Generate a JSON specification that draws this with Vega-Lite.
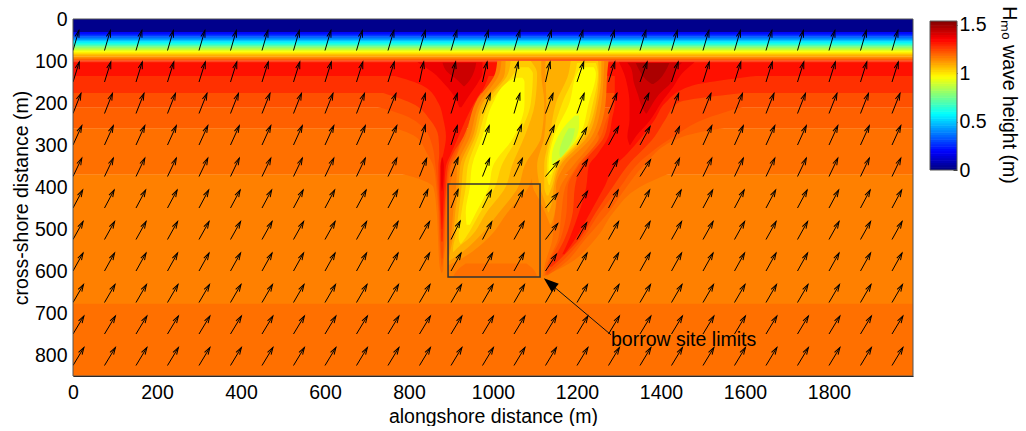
{"$schema":"https://vega.github.io/schema/vega-lite/v6.json","background":"white","padding":{"left":11,"top":5,"right":0,"bottom":0},"bounds":"flush","spacing":17,"config":{"font":"Liberation Sans","axis":{"labelFont":"Liberation Sans","titleFont":"Liberation Sans","labelFontSize":19.5,"titleFontSize":19.5,"titleFontWeight":"normal","labelColor":"#000","titleColor":"#000","grid":false},"view":{"stroke":null}},"datasets":{
"bg":[{"y0":0,"y1":32,"v":0.02},{"y0":31,"y1":36,"v":0.2},{"y0":35,"y1":39,"v":0.24},{"y0":38,"y1":42,"v":0.28},{"y0":41,"y1":45,"v":0.33},{"y0":44,"y1":48,"v":0.38},{"y0":47,"y1":51,"v":0.43},{"y0":50,"y1":54,"v":0.49},{"y0":53,"y1":57,"v":0.54},{"y0":56,"y1":60,"v":0.6},{"y0":59,"y1":63,"v":0.65},{"y0":62,"y1":66,"v":0.7},{"y0":65,"y1":69,"v":0.76},{"y0":68,"y1":72,"v":0.82},{"y0":71,"y1":75,"v":0.87},{"y0":74,"y1":78,"v":0.92},{"y0":77,"y1":81,"v":0.96},{"y0":80,"y1":84,"v":1.0},{"y0":83,"y1":87,"v":1.05},{"y0":86,"y1":90,"v":1.08},{"y0":89,"y1":93,"v":1.12},{"y0":92,"y1":96,"v":1.16},{"y0":95,"y1":99,"v":1.2},{"y0":98,"y1":102,"v":1.25},{"y0":101,"y1":106,"v":1.3},{"y0":105,"y1":137,"v":1.32},{"y0":136,"y1":177,"v":1.272},{"y0":176,"y1":211,"v":1.224},{"y0":210,"y1":261,"v":1.2},{"y0":260,"y1":371,"v":1.175},{"y0":370,"y1":679,"v":1.152},{"y0":678,"y1":850,"v":1.175}],
"bands":[
{"id":"L1","v":1.175,"y":368,"x0":780,"x1":905},{"id":"L1","v":1.175,"y":385,"x0":835,"x1":900},{"id":"L1","v":1.175,"y":400,"x0":858,"x1":897},{"id":"L1","v":1.175,"y":460,"x0":866,"x1":895},{"id":"L1","v":1.175,"y":520,"x0":869,"x1":893},{"id":"L1","v":1.175,"y":590,"x0":873,"x1":885},{"id":"L1","v":1.175,"y":606,"x0":878,"x1":878},
{"id":"R1","v":1.175,"y":368,"x0":1180,"x1":1420},{"id":"R1","v":1.175,"y":400,"x0":1160,"x1":1350},{"id":"R1","v":1.175,"y":460,"x0":1148,"x1":1287},{"id":"R1","v":1.175,"y":520,"x0":1140,"x1":1247},{"id":"R1","v":1.175,"y":590,"x0":1122,"x1":1168},{"id":"R1","v":1.175,"y":612,"x0":1118,"x1":1122},
{"id":"L2","v":1.2,"y":258,"x0":760,"x1":930},{"id":"L2","v":1.2,"y":280,"x0":815,"x1":925},{"id":"L2","v":1.2,"y":320,"x0":843,"x1":915},{"id":"L2","v":1.2,"y":350,"x0":858,"x1":900},{"id":"L2","v":1.2,"y":400,"x0":865,"x1":893},{"id":"L2","v":1.2,"y":460,"x0":870,"x1":888},{"id":"L2","v":1.2,"y":520,"x0":872,"x1":885},{"id":"L2","v":1.2,"y":575,"x0":876,"x1":881},{"id":"L2","v":1.2,"y":590,"x0":878,"x1":879},
{"id":"R2","v":1.2,"y":258,"x0":1230,"x1":1560},{"id":"R2","v":1.2,"y":280,"x0":1252,"x1":1453},{"id":"R2","v":1.2,"y":350,"x0":1200,"x1":1358},{"id":"R2","v":1.2,"y":400,"x0":1172,"x1":1318},{"id":"R2","v":1.2,"y":460,"x0":1163,"x1":1275},{"id":"R2","v":1.2,"y":520,"x0":1156,"x1":1223},{"id":"R2","v":1.2,"y":590,"x0":1127,"x1":1160},{"id":"R2","v":1.2,"y":610,"x0":1124,"x1":1130},
{"id":"L3","v":1.224,"y":208,"x0":720,"x1":950},{"id":"L3","v":1.224,"y":230,"x0":790,"x1":945},{"id":"L3","v":1.224,"y":260,"x0":835,"x1":935},{"id":"L3","v":1.224,"y":300,"x0":855,"x1":920},{"id":"L3","v":1.224,"y":350,"x0":863,"x1":897},{"id":"L3","v":1.224,"y":400,"x0":868,"x1":890},{"id":"L3","v":1.224,"y":460,"x0":872,"x1":886},{"id":"L3","v":1.224,"y":520,"x0":874,"x1":883},{"id":"L3","v":1.224,"y":570,"x0":878,"x1":880},
{"id":"R3","v":1.224,"y":208,"x0":1285,"x1":1600},{"id":"R3","v":1.224,"y":240,"x0":1270,"x1":1500},{"id":"R3","v":1.224,"y":280,"x0":1257,"x1":1430},{"id":"R3","v":1.224,"y":350,"x0":1203,"x1":1340},{"id":"R3","v":1.224,"y":400,"x0":1178,"x1":1303},{"id":"R3","v":1.224,"y":460,"x0":1175,"x1":1255},{"id":"R3","v":1.224,"y":520,"x0":1162,"x1":1215},{"id":"R3","v":1.224,"y":590,"x0":1130,"x1":1150},{"id":"R3","v":1.224,"y":606,"x0":1127,"x1":1130},
{"id":"L4","v":1.272,"y":174,"x0":730,"x1":965},{"id":"L4","v":1.272,"y":200,"x0":805,"x1":960},{"id":"L4","v":1.272,"y":240,"x0":850,"x1":945},{"id":"L4","v":1.272,"y":280,"x0":870,"x1":930},{"id":"L4","v":1.272,"y":320,"x0":872,"x1":905},{"id":"L4","v":1.272,"y":350,"x0":870,"x1":893},{"id":"L4","v":1.272,"y":400,"x0":871,"x1":888},{"id":"L4","v":1.272,"y":460,"x0":874,"x1":884},{"id":"L4","v":1.272,"y":530,"x0":877,"x1":880},
{"id":"R4","v":1.272,"y":174,"x0":1290,"x1":1620},{"id":"R4","v":1.272,"y":200,"x0":1283,"x1":1440},{"id":"R4","v":1.272,"y":240,"x0":1275,"x1":1410},{"id":"R4","v":1.272,"y":280,"x0":1265,"x1":1385},{"id":"R4","v":1.272,"y":350,"x0":1210,"x1":1320},{"id":"R4","v":1.272,"y":400,"x0":1195,"x1":1285},{"id":"R4","v":1.272,"y":460,"x0":1190,"x1":1245},{"id":"R4","v":1.272,"y":520,"x0":1172,"x1":1208},{"id":"R4","v":1.272,"y":590,"x0":1132,"x1":1140},
{"id":"L5","v":1.32,"y":134,"x0":760,"x1":990},{"id":"L5","v":1.32,"y":160,"x0":835,"x1":980},{"id":"L5","v":1.32,"y":200,"x0":870,"x1":955},{"id":"L5","v":1.32,"y":240,"x0":882,"x1":935},{"id":"L5","v":1.32,"y":280,"x0":888,"x1":918},{"id":"L5","v":1.32,"y":320,"x0":882,"x1":900},{"id":"L5","v":1.32,"y":350,"x0":874,"x1":888},{"id":"L5","v":1.32,"y":400,"x0":874,"x1":884},{"id":"L5","v":1.32,"y":460,"x0":876,"x1":881},{"id":"L5","v":1.32,"y":500,"x0":878,"x1":879},
{"id":"R5","v":1.32,"y":134,"x0":1290,"x1":1640},{"id":"R5","v":1.32,"y":160,"x0":1290,"x1":1470},{"id":"R5","v":1.32,"y":200,"x0":1290,"x1":1410},{"id":"R5","v":1.32,"y":240,"x0":1283,"x1":1385},{"id":"R5","v":1.32,"y":280,"x0":1275,"x1":1355},{"id":"R5","v":1.32,"y":320,"x0":1250,"x1":1320},{"id":"R5","v":1.32,"y":350,"x0":1228,"x1":1290},{"id":"R5","v":1.32,"y":400,"x0":1222,"x1":1265},{"id":"R5","v":1.32,"y":460,"x0":1205,"x1":1232},{"id":"R5","v":1.32,"y":520,"x0":1183,"x1":1198},{"id":"R5","v":1.32,"y":560,"x0":1165,"x1":1170},
{"id":"L6","v":1.37,"y":103,"x0":820,"x1":975},{"id":"L6","v":1.37,"y":130,"x0":860,"x1":975},{"id":"L6","v":1.37,"y":150,"x0":880,"x1":965},{"id":"L6","v":1.37,"y":180,"x0":905,"x1":945},{"id":"L6","v":1.37,"y":210,"x0":920,"x1":925},
{"id":"L6b","v":1.37,"y":330,"x0":878,"x1":880},{"id":"L6b","v":1.37,"y":350,"x0":876,"x1":883},{"id":"L6b","v":1.37,"y":385,"x0":876,"x1":882},{"id":"L6b","v":1.37,"y":410,"x0":878,"x1":879},
{"id":"R6","v":1.37,"y":103,"x0":1300,"x1":1480},{"id":"R6","v":1.37,"y":130,"x0":1312,"x1":1450},{"id":"R6","v":1.37,"y":160,"x0":1320,"x1":1430},{"id":"R6","v":1.37,"y":200,"x0":1325,"x1":1400},{"id":"R6","v":1.37,"y":240,"x0":1325,"x1":1375},{"id":"R6","v":1.37,"y":280,"x0":1320,"x1":1340},{"id":"R6","v":1.37,"y":300,"x0":1325,"x1":1327},
{"id":"L7","v":1.42,"y":104,"x0":880,"x1":960},{"id":"L7","v":1.42,"y":125,"x0":890,"x1":955},{"id":"L7","v":1.42,"y":145,"x0":915,"x1":945},{"id":"L7","v":1.42,"y":160,"x0":930,"x1":932},
{"id":"R7","v":1.42,"y":104,"x0":1320,"x1":1450},{"id":"R7","v":1.42,"y":120,"x0":1330,"x1":1435},{"id":"R7","v":1.42,"y":150,"x0":1335,"x1":1425},{"id":"R7","v":1.42,"y":180,"x0":1345,"x1":1395},{"id":"R7","v":1.42,"y":210,"x0":1355,"x1":1375},{"id":"R7","v":1.42,"y":225,"x0":1364,"x1":1366},
{"id":"R8","v":1.47,"y":105,"x0":1340,"x1":1420},{"id":"R8","v":1.47,"y":125,"x0":1350,"x1":1410},{"id":"R8","v":1.47,"y":145,"x0":1365,"x1":1395},{"id":"R8","v":1.47,"y":155,"x0":1378,"x1":1382},
{"id":"M","v":1.152,"y":100,"x0":1010,"x1":1275},{"id":"M","v":1.152,"y":130,"x0":1005,"x1":1272},{"id":"M","v":1.152,"y":200,"x0":958,"x1":1268},{"id":"M","v":1.152,"y":280,"x0":935,"x1":1245},{"id":"M","v":1.152,"y":350,"x0":907,"x1":1190},{"id":"M","v":1.152,"y":400,"x0":905,"x1":1150},{"id":"M","v":1.152,"y":460,"x0":895,"x1":1145},{"id":"M","v":1.152,"y":520,"x0":890,"x1":1142},{"id":"M","v":1.152,"y":590,"x0":882,"x1":1122},{"id":"M","v":1.152,"y":610,"x0":882,"x1":1120},
{"id":"D","v":1.175,"y":582,"x0":935,"x1":1080},{"id":"D","v":1.175,"y":598,"x0":915,"x1":1098},{"id":"D","v":1.175,"y":614,"x0":905,"x1":1105},
{"id":"A1","v":1.12,"y":100,"x0":1020,"x1":1120},{"id":"A1","v":1.12,"y":130,"x0":1015,"x1":1130},{"id":"A1","v":1.12,"y":200,"x0":968,"x1":1130},{"id":"A1","v":1.12,"y":280,"x0":945,"x1":1130},{"id":"A1","v":1.12,"y":350,"x0":915,"x1":1100},{"id":"A1","v":1.12,"y":400,"x0":912,"x1":1085},{"id":"A1","v":1.12,"y":460,"x0":905,"x1":1035},{"id":"A1","v":1.12,"y":520,"x0":900,"x1":990},{"id":"A1","v":1.12,"y":570,"x0":893,"x1":925},{"id":"A1","v":1.12,"y":585,"x0":892,"x1":896},
{"id":"B1","v":1.12,"y":100,"x0":1110,"x1":1265},{"id":"B1","v":1.12,"y":200,"x0":1110,"x1":1258},{"id":"B1","v":1.12,"y":280,"x0":1100,"x1":1235},{"id":"B1","v":1.12,"y":350,"x0":1090,"x1":1170},{"id":"B1","v":1.12,"y":400,"x0":1095,"x1":1150},{"id":"B1","v":1.12,"y":430,"x0":1110,"x1":1150},{"id":"B1","v":1.12,"y":470,"x0":1128,"x1":1145},{"id":"B1","v":1.12,"y":490,"x0":1136,"x1":1138},
{"id":"A2","v":1.08,"y":100,"x0":1030,"x1":1115},{"id":"A2","v":1.08,"y":130,"x0":1028,"x1":1115},{"id":"A2","v":1.08,"y":200,"x0":975,"x1":1122},{"id":"A2","v":1.08,"y":280,"x0":952,"x1":1115},{"id":"A2","v":1.08,"y":350,"x0":922,"x1":1075},{"id":"A2","v":1.08,"y":400,"x0":918,"x1":1060},{"id":"A2","v":1.08,"y":460,"x0":910,"x1":1015},{"id":"A2","v":1.08,"y":520,"x0":905,"x1":965},{"id":"A2","v":1.08,"y":560,"x0":897,"x1":920},{"id":"A2","v":1.08,"y":575,"x0":895,"x1":897},
{"id":"B2","v":1.08,"y":100,"x0":1125,"x1":1258},{"id":"B2","v":1.08,"y":130,"x0":1125,"x1":1258},{"id":"B2","v":1.08,"y":200,"x0":1127,"x1":1250},{"id":"B2","v":1.08,"y":280,"x0":1122,"x1":1225},{"id":"B2","v":1.08,"y":350,"x0":1105,"x1":1160},{"id":"B2","v":1.08,"y":400,"x0":1112,"x1":1145},{"id":"B2","v":1.08,"y":440,"x0":1125,"x1":1140},{"id":"B2","v":1.08,"y":460,"x0":1131,"x1":1133},
{"id":"A3","v":1.04,"y":100,"x0":1042,"x1":1090},{"id":"A3","v":1.04,"y":130,"x0":1036,"x1":1105},{"id":"A3","v":1.04,"y":200,"x0":982,"x1":1100},{"id":"A3","v":1.04,"y":280,"x0":958,"x1":1075},{"id":"A3","v":1.04,"y":350,"x0":930,"x1":1045},{"id":"A3","v":1.04,"y":400,"x0":925,"x1":1030},{"id":"A3","v":1.04,"y":460,"x0":918,"x1":985},{"id":"A3","v":1.04,"y":520,"x0":910,"x1":945},{"id":"A3","v":1.04,"y":545,"x0":905,"x1":915},{"id":"A3","v":1.04,"y":555,"x0":905,"x1":906},
{"id":"B3","v":1.04,"y":100,"x0":1185,"x1":1250},{"id":"B3","v":1.04,"y":130,"x0":1180,"x1":1252},{"id":"B3","v":1.04,"y":200,"x0":1150,"x1":1245},{"id":"B3","v":1.04,"y":280,"x0":1135,"x1":1217},{"id":"B3","v":1.04,"y":350,"x0":1122,"x1":1155},{"id":"B3","v":1.04,"y":400,"x0":1122,"x1":1140},{"id":"B3","v":1.04,"y":420,"x0":1128,"x1":1132},
{"id":"A4","v":1.0,"y":115,"x0":1060,"x1":1085},{"id":"A4","v":1.0,"y":130,"x0":1050,"x1":1095},{"id":"A4","v":1.0,"y":200,"x0":992,"x1":1090},{"id":"A4","v":1.0,"y":280,"x0":965,"x1":1060},{"id":"A4","v":1.0,"y":350,"x0":940,"x1":1020},{"id":"A4","v":1.0,"y":400,"x0":935,"x1":1005},{"id":"A4","v":1.0,"y":460,"x0":925,"x1":970},{"id":"A4","v":1.0,"y":520,"x0":918,"x1":935},{"id":"A4","v":1.0,"y":535,"x0":922,"x1":924},
{"id":"B4","v":1.0,"y":105,"x0":1200,"x1":1245},{"id":"B4","v":1.0,"y":130,"x0":1195,"x1":1250},{"id":"B4","v":1.0,"y":200,"x0":1165,"x1":1238},{"id":"B4","v":1.0,"y":280,"x0":1140,"x1":1212},{"id":"B4","v":1.0,"y":350,"x0":1128,"x1":1150},{"id":"B4","v":1.0,"y":385,"x0":1130,"x1":1138},{"id":"B4","v":1.0,"y":395,"x0":1133,"x1":1135},
{"id":"A5","v":0.96,"y":140,"x0":1055,"x1":1070},{"id":"A5","v":0.96,"y":150,"x0":1035,"x1":1075},{"id":"A5","v":0.96,"y":200,"x0":1000,"x1":1075},{"id":"A5","v":0.96,"y":280,"x0":975,"x1":1050},{"id":"A5","v":0.96,"y":350,"x0":950,"x1":1000},{"id":"A5","v":0.96,"y":400,"x0":945,"x1":990},{"id":"A5","v":0.96,"y":460,"x0":935,"x1":960},{"id":"A5","v":0.96,"y":490,"x0":937,"x1":945},
{"id":"B5","v":0.96,"y":115,"x0":1210,"x1":1240},{"id":"B5","v":0.96,"y":130,"x0":1200,"x1":1245},{"id":"B5","v":0.96,"y":200,"x0":1182,"x1":1228},{"id":"B5","v":0.96,"y":280,"x0":1145,"x1":1205},{"id":"B5","v":0.96,"y":350,"x0":1132,"x1":1145},{"id":"B5","v":0.96,"y":370,"x0":1134,"x1":1138},
{"id":"B6","v":0.9,"y":230,"x0":1195,"x1":1205},{"id":"B6","v":0.9,"y":250,"x0":1175,"x1":1205},{"id":"B6","v":0.9,"y":290,"x0":1150,"x1":1195},{"id":"B6","v":0.9,"y":330,"x0":1140,"x1":1160},{"id":"B6","v":0.9,"y":345,"x0":1140,"x1":1142},
{"id":"B7","v":0.85,"y":260,"x0":1180,"x1":1195},{"id":"B7","v":0.85,"y":290,"x0":1165,"x1":1188},{"id":"B7","v":0.85,"y":320,"x0":1158,"x1":1170},{"id":"B7","v":0.85,"y":330,"x0":1160,"x1":1162}
],
"arrows":[
{"x":0,"y":75,"tx":14,"ty":27,"a":16},{"x":75,"y":75,"tx":89,"ty":27,"a":16},{"x":150,"y":75,"tx":164,"ty":27,"a":16},{"x":225,"y":75,"tx":239,"ty":27,"a":16},{"x":300,"y":75,"tx":314,"ty":27,"a":16},{"x":375,"y":75,"tx":389,"ty":27,"a":16},{"x":450,"y":75,"tx":464,"ty":27,"a":16},{"x":525,"y":75,"tx":539,"ty":27,"a":16},{"x":600,"y":75,"tx":614,"ty":27,"a":16},{"x":675,"y":75,"tx":689,"ty":27,"a":16},{"x":750,"y":75,"tx":764,"ty":27,"a":16},{"x":825,"y":75,"tx":839,"ty":27,"a":16},{"x":900,"y":75,"tx":914,"ty":27,"a":16},{"x":975,"y":75,"tx":989,"ty":27,"a":16},{"x":1050,"y":75,"tx":1064,"ty":27,"a":16},{"x":1125,"y":75,"tx":1139,"ty":27,"a":16},{"x":1200,"y":75,"tx":1214,"ty":27,"a":16},{"x":1275,"y":75,"tx":1289,"ty":27,"a":16},{"x":1350,"y":75,"tx":1364,"ty":27,"a":16},{"x":1425,"y":75,"tx":1439,"ty":27,"a":16},{"x":1500,"y":75,"tx":1514,"ty":27,"a":16},{"x":1575,"y":75,"tx":1589,"ty":27,"a":16},{"x":1650,"y":75,"tx":1664,"ty":27,"a":16},{"x":1725,"y":75,"tx":1739,"ty":27,"a":16},{"x":1800,"y":75,"tx":1814,"ty":27,"a":16},{"x":1875,"y":75,"tx":1889,"ty":27,"a":16},{"x":1950,"y":75,"tx":1964,"ty":27,"a":16},
{"x":0,"y":150,"tx":15,"ty":102,"a":17},{"x":75,"y":150,"tx":90,"ty":102,"a":17},{"x":150,"y":150,"tx":165,"ty":102,"a":17},{"x":225,"y":150,"tx":240,"ty":102,"a":17},{"x":300,"y":150,"tx":315,"ty":102,"a":17},{"x":375,"y":150,"tx":390,"ty":102,"a":17},{"x":450,"y":150,"tx":465,"ty":102,"a":17},{"x":525,"y":150,"tx":540,"ty":102,"a":17},{"x":600,"y":150,"tx":615,"ty":102,"a":17},{"x":675,"y":150,"tx":690,"ty":102,"a":17},{"x":750,"y":150,"tx":765,"ty":102,"a":17},{"x":825,"y":150,"tx":835,"ty":102,"a":12},{"x":900,"y":150,"tx":911,"ty":102,"a":13},{"x":975,"y":150,"tx":986,"ty":102,"a":13},{"x":1050,"y":150,"tx":1060,"ty":102,"a":12},{"x":1125,"y":150,"tx":1136,"ty":102,"a":13},{"x":1200,"y":150,"tx":1216,"ty":102,"a":18},{"x":1275,"y":150,"tx":1290,"ty":102,"a":17},{"x":1350,"y":150,"tx":1367,"ty":102,"a":20},{"x":1425,"y":150,"tx":1441,"ty":102,"a":18},{"x":1500,"y":150,"tx":1515,"ty":102,"a":17},{"x":1575,"y":150,"tx":1590,"ty":102,"a":17},{"x":1650,"y":150,"tx":1665,"ty":102,"a":17},{"x":1725,"y":150,"tx":1740,"ty":102,"a":17},{"x":1800,"y":150,"tx":1815,"ty":102,"a":17},{"x":1875,"y":150,"tx":1890,"ty":102,"a":17},{"x":1950,"y":150,"tx":1965,"ty":102,"a":17},
{"x":0,"y":225,"tx":19,"ty":177,"a":22},{"x":75,"y":225,"tx":94,"ty":177,"a":22},{"x":150,"y":225,"tx":169,"ty":177,"a":22},{"x":225,"y":225,"tx":244,"ty":177,"a":22},{"x":300,"y":225,"tx":319,"ty":177,"a":22},{"x":375,"y":225,"tx":394,"ty":177,"a":22},{"x":450,"y":225,"tx":469,"ty":177,"a":22},{"x":525,"y":225,"tx":544,"ty":177,"a":22},{"x":600,"y":225,"tx":619,"ty":177,"a":22},{"x":675,"y":225,"tx":694,"ty":177,"a":22},{"x":750,"y":225,"tx":769,"ty":177,"a":22},{"x":825,"y":225,"tx":839,"ty":177,"a":16},{"x":900,"y":225,"tx":915,"ty":177,"a":17},{"x":975,"y":225,"tx":994,"ty":177,"a":22},{"x":1050,"y":225,"tx":1064,"ty":177,"a":16},{"x":1125,"y":225,"tx":1143,"ty":177,"a":21},{"x":1200,"y":225,"tx":1217,"ty":177,"a":20},{"x":1275,"y":225,"tx":1295,"ty":177,"a":23},{"x":1350,"y":225,"tx":1371,"ty":177,"a":24},{"x":1425,"y":225,"tx":1442,"ty":177,"a":20},{"x":1500,"y":225,"tx":1519,"ty":177,"a":22},{"x":1575,"y":225,"tx":1594,"ty":177,"a":22},{"x":1650,"y":225,"tx":1669,"ty":177,"a":22},{"x":1725,"y":225,"tx":1744,"ty":177,"a":22},{"x":1800,"y":225,"tx":1819,"ty":177,"a":22},{"x":1875,"y":225,"tx":1894,"ty":177,"a":22},{"x":1950,"y":225,"tx":1969,"ty":177,"a":22},
{"x":0,"y":300,"tx":21,"ty":254,"a":25},{"x":75,"y":300,"tx":96,"ty":254,"a":25},{"x":150,"y":300,"tx":171,"ty":254,"a":25},{"x":225,"y":300,"tx":246,"ty":254,"a":25},{"x":300,"y":300,"tx":321,"ty":254,"a":25},{"x":375,"y":300,"tx":396,"ty":254,"a":25},{"x":450,"y":300,"tx":471,"ty":254,"a":25},{"x":525,"y":300,"tx":546,"ty":254,"a":25},{"x":600,"y":300,"tx":621,"ty":254,"a":25},{"x":675,"y":300,"tx":696,"ty":254,"a":25},{"x":750,"y":300,"tx":771,"ty":254,"a":25},{"x":825,"y":300,"tx":839,"ty":252,"a":16},{"x":900,"y":300,"tx":915,"ty":254,"a":18},{"x":975,"y":300,"tx":991,"ty":254,"a":19},{"x":1050,"y":300,"tx":1068,"ty":252,"a":21},{"x":1125,"y":300,"tx":1146,"ty":254,"a":25},{"x":1200,"y":300,"tx":1223,"ty":259,"a":29},{"x":1275,"y":300,"tx":1299,"ty":256,"a":29},{"x":1350,"y":300,"tx":1374,"ty":256,"a":29},{"x":1425,"y":300,"tx":1444,"ty":256,"a":23},{"x":1500,"y":300,"tx":1521,"ty":254,"a":25},{"x":1575,"y":300,"tx":1596,"ty":254,"a":25},{"x":1650,"y":300,"tx":1671,"ty":254,"a":25},{"x":1725,"y":300,"tx":1746,"ty":254,"a":25},{"x":1800,"y":300,"tx":1821,"ty":254,"a":25},{"x":1875,"y":300,"tx":1896,"ty":254,"a":25},{"x":1950,"y":300,"tx":1971,"ty":254,"a":25},
{"x":0,"y":375,"tx":21,"ty":331,"a":25},{"x":75,"y":375,"tx":96,"ty":331,"a":25},{"x":150,"y":375,"tx":171,"ty":331,"a":25},{"x":225,"y":375,"tx":246,"ty":331,"a":25},{"x":300,"y":375,"tx":321,"ty":331,"a":25},{"x":375,"y":375,"tx":396,"ty":331,"a":25},{"x":450,"y":375,"tx":471,"ty":331,"a":25},{"x":525,"y":375,"tx":546,"ty":331,"a":25},{"x":600,"y":375,"tx":621,"ty":331,"a":25},{"x":675,"y":375,"tx":696,"ty":331,"a":25},{"x":750,"y":375,"tx":771,"ty":331,"a":25},{"x":825,"y":375,"tx":842,"ty":332,"a":22},{"x":900,"y":375,"tx":917,"ty":330,"a":21},{"x":975,"y":375,"tx":992,"ty":332,"a":22},{"x":1050,"y":375,"tx":1070,"ty":332,"a":25},{"x":1125,"y":375,"tx":1157,"ty":338,"a":41},{"x":1200,"y":375,"tx":1225,"ty":335,"a":32},{"x":1275,"y":375,"tx":1297,"ty":335,"a":29},{"x":1350,"y":375,"tx":1375,"ty":335,"a":32},{"x":1425,"y":375,"tx":1444,"ty":332,"a":24},{"x":1500,"y":375,"tx":1521,"ty":331,"a":25},{"x":1575,"y":375,"tx":1596,"ty":331,"a":25},{"x":1650,"y":375,"tx":1671,"ty":331,"a":25},{"x":1725,"y":375,"tx":1746,"ty":331,"a":25},{"x":1800,"y":375,"tx":1821,"ty":331,"a":25},{"x":1875,"y":375,"tx":1896,"ty":331,"a":25},{"x":1950,"y":375,"tx":1971,"ty":331,"a":25},
{"x":0,"y":450,"tx":23,"ty":407,"a":28},{"x":75,"y":450,"tx":98,"ty":407,"a":28},{"x":150,"y":450,"tx":173,"ty":407,"a":28},{"x":225,"y":450,"tx":248,"ty":407,"a":28},{"x":300,"y":450,"tx":323,"ty":407,"a":28},{"x":375,"y":450,"tx":398,"ty":407,"a":28},{"x":450,"y":450,"tx":473,"ty":407,"a":28},{"x":525,"y":450,"tx":548,"ty":407,"a":28},{"x":600,"y":450,"tx":623,"ty":407,"a":28},{"x":675,"y":450,"tx":698,"ty":407,"a":28},{"x":750,"y":450,"tx":773,"ty":407,"a":28},{"x":825,"y":450,"tx":845,"ty":406,"a":24},{"x":900,"y":450,"tx":917,"ty":406,"a":21},{"x":975,"y":450,"tx":996,"ty":408,"a":27},{"x":1050,"y":450,"tx":1072,"ty":408,"a":28},{"x":1125,"y":450,"tx":1154,"ty":415,"a":40},{"x":1200,"y":450,"tx":1225,"ty":410,"a":32},{"x":1275,"y":450,"tx":1298,"ty":407,"a":28},{"x":1350,"y":450,"tx":1373,"ty":407,"a":28},{"x":1425,"y":450,"tx":1448,"ty":407,"a":28},{"x":1500,"y":450,"tx":1523,"ty":407,"a":28},{"x":1575,"y":450,"tx":1598,"ty":407,"a":28},{"x":1650,"y":450,"tx":1673,"ty":407,"a":28},{"x":1725,"y":450,"tx":1748,"ty":407,"a":28},{"x":1800,"y":450,"tx":1823,"ty":407,"a":28},{"x":1875,"y":450,"tx":1898,"ty":407,"a":28},{"x":1950,"y":450,"tx":1973,"ty":407,"a":28},
{"x":0,"y":525,"tx":24,"ty":482,"a":29},{"x":75,"y":525,"tx":99,"ty":482,"a":29},{"x":150,"y":525,"tx":174,"ty":482,"a":29},{"x":225,"y":525,"tx":249,"ty":482,"a":29},{"x":300,"y":525,"tx":324,"ty":482,"a":29},{"x":375,"y":525,"tx":399,"ty":482,"a":29},{"x":450,"y":525,"tx":474,"ty":482,"a":29},{"x":525,"y":525,"tx":549,"ty":482,"a":29},{"x":600,"y":525,"tx":624,"ty":482,"a":29},{"x":675,"y":525,"tx":699,"ty":482,"a":29},{"x":750,"y":525,"tx":774,"ty":482,"a":29},{"x":825,"y":525,"tx":849,"ty":482,"a":29},{"x":900,"y":525,"tx":922,"ty":481,"a":27},{"x":975,"y":525,"tx":997,"ty":483,"a":28},{"x":1050,"y":525,"tx":1074,"ty":482,"a":29},{"x":1125,"y":525,"tx":1154,"ty":487,"a":37},{"x":1200,"y":525,"tx":1223,"ty":485,"a":30},{"x":1275,"y":525,"tx":1299,"ty":482,"a":29},{"x":1350,"y":525,"tx":1374,"ty":482,"a":29},{"x":1425,"y":525,"tx":1449,"ty":482,"a":29},{"x":1500,"y":525,"tx":1524,"ty":482,"a":29},{"x":1575,"y":525,"tx":1599,"ty":482,"a":29},{"x":1650,"y":525,"tx":1674,"ty":482,"a":29},{"x":1725,"y":525,"tx":1749,"ty":482,"a":29},{"x":1800,"y":525,"tx":1824,"ty":482,"a":29},{"x":1875,"y":525,"tx":1899,"ty":482,"a":29},{"x":1950,"y":525,"tx":1974,"ty":482,"a":29},
{"x":0,"y":600,"tx":24,"ty":557,"a":29},{"x":75,"y":600,"tx":99,"ty":557,"a":29},{"x":150,"y":600,"tx":174,"ty":557,"a":29},{"x":225,"y":600,"tx":249,"ty":557,"a":29},{"x":300,"y":600,"tx":324,"ty":557,"a":29},{"x":375,"y":600,"tx":399,"ty":557,"a":29},{"x":450,"y":600,"tx":474,"ty":557,"a":29},{"x":525,"y":600,"tx":549,"ty":557,"a":29},{"x":600,"y":600,"tx":624,"ty":557,"a":29},{"x":675,"y":600,"tx":699,"ty":557,"a":29},{"x":750,"y":600,"tx":774,"ty":557,"a":29},{"x":825,"y":600,"tx":849,"ty":557,"a":29},{"x":900,"y":600,"tx":924,"ty":557,"a":29},{"x":975,"y":600,"tx":999,"ty":557,"a":29},{"x":1050,"y":600,"tx":1074,"ty":557,"a":29},{"x":1125,"y":600,"tx":1151,"ty":560,"a":33},{"x":1200,"y":600,"tx":1224,"ty":557,"a":29},{"x":1275,"y":600,"tx":1299,"ty":557,"a":29},{"x":1350,"y":600,"tx":1374,"ty":557,"a":29},{"x":1425,"y":600,"tx":1449,"ty":557,"a":29},{"x":1500,"y":600,"tx":1524,"ty":557,"a":29},{"x":1575,"y":600,"tx":1599,"ty":557,"a":29},{"x":1650,"y":600,"tx":1674,"ty":557,"a":29},{"x":1725,"y":600,"tx":1749,"ty":557,"a":29},{"x":1800,"y":600,"tx":1824,"ty":557,"a":29},{"x":1875,"y":600,"tx":1899,"ty":557,"a":29},{"x":1950,"y":600,"tx":1974,"ty":557,"a":29},
{"x":0,"y":675,"tx":25,"ty":632,"a":30},{"x":75,"y":675,"tx":100,"ty":632,"a":30},{"x":150,"y":675,"tx":175,"ty":632,"a":30},{"x":225,"y":675,"tx":250,"ty":632,"a":30},{"x":300,"y":675,"tx":325,"ty":632,"a":30},{"x":375,"y":675,"tx":400,"ty":632,"a":30},{"x":450,"y":675,"tx":475,"ty":632,"a":30},{"x":525,"y":675,"tx":550,"ty":632,"a":30},{"x":600,"y":675,"tx":625,"ty":632,"a":30},{"x":675,"y":675,"tx":700,"ty":632,"a":30},{"x":750,"y":675,"tx":775,"ty":632,"a":30},{"x":825,"y":675,"tx":850,"ty":632,"a":30},{"x":900,"y":675,"tx":925,"ty":632,"a":30},{"x":975,"y":675,"tx":1000,"ty":632,"a":30},{"x":1050,"y":675,"tx":1075,"ty":632,"a":30},{"x":1125,"y":675,"tx":1150,"ty":632,"a":30},{"x":1200,"y":675,"tx":1225,"ty":632,"a":30},{"x":1275,"y":675,"tx":1300,"ty":632,"a":30},{"x":1350,"y":675,"tx":1375,"ty":632,"a":30},{"x":1425,"y":675,"tx":1450,"ty":632,"a":30},{"x":1500,"y":675,"tx":1525,"ty":632,"a":30},{"x":1575,"y":675,"tx":1600,"ty":632,"a":30},{"x":1650,"y":675,"tx":1675,"ty":632,"a":30},{"x":1725,"y":675,"tx":1750,"ty":632,"a":30},{"x":1800,"y":675,"tx":1825,"ty":632,"a":30},{"x":1875,"y":675,"tx":1900,"ty":632,"a":30},{"x":1950,"y":675,"tx":1975,"ty":632,"a":30},
{"x":0,"y":750,"tx":26,"ty":707,"a":31},{"x":75,"y":750,"tx":101,"ty":707,"a":31},{"x":150,"y":750,"tx":176,"ty":707,"a":31},{"x":225,"y":750,"tx":251,"ty":707,"a":31},{"x":300,"y":750,"tx":326,"ty":707,"a":31},{"x":375,"y":750,"tx":401,"ty":707,"a":31},{"x":450,"y":750,"tx":476,"ty":707,"a":31},{"x":525,"y":750,"tx":551,"ty":707,"a":31},{"x":600,"y":750,"tx":626,"ty":707,"a":31},{"x":675,"y":750,"tx":701,"ty":707,"a":31},{"x":750,"y":750,"tx":776,"ty":707,"a":31},{"x":825,"y":750,"tx":851,"ty":707,"a":31},{"x":900,"y":750,"tx":926,"ty":707,"a":31},{"x":975,"y":750,"tx":1001,"ty":707,"a":31},{"x":1050,"y":750,"tx":1076,"ty":707,"a":31},{"x":1125,"y":750,"tx":1151,"ty":707,"a":31},{"x":1200,"y":750,"tx":1226,"ty":707,"a":31},{"x":1275,"y":750,"tx":1301,"ty":707,"a":31},{"x":1350,"y":750,"tx":1376,"ty":707,"a":31},{"x":1425,"y":750,"tx":1451,"ty":707,"a":31},{"x":1500,"y":750,"tx":1526,"ty":707,"a":31},{"x":1575,"y":750,"tx":1601,"ty":707,"a":31},{"x":1650,"y":750,"tx":1676,"ty":707,"a":31},{"x":1725,"y":750,"tx":1751,"ty":707,"a":31},{"x":1800,"y":750,"tx":1826,"ty":707,"a":31},{"x":1875,"y":750,"tx":1901,"ty":707,"a":31},{"x":1950,"y":750,"tx":1976,"ty":707,"a":31},
{"x":0,"y":825,"tx":26,"ty":782,"a":31},{"x":75,"y":825,"tx":101,"ty":782,"a":31},{"x":150,"y":825,"tx":176,"ty":782,"a":31},{"x":225,"y":825,"tx":251,"ty":782,"a":31},{"x":300,"y":825,"tx":326,"ty":782,"a":31},{"x":375,"y":825,"tx":401,"ty":782,"a":31},{"x":450,"y":825,"tx":476,"ty":782,"a":31},{"x":525,"y":825,"tx":551,"ty":782,"a":31},{"x":600,"y":825,"tx":626,"ty":782,"a":31},{"x":675,"y":825,"tx":701,"ty":782,"a":31},{"x":750,"y":825,"tx":776,"ty":782,"a":31},{"x":825,"y":825,"tx":851,"ty":782,"a":31},{"x":900,"y":825,"tx":926,"ty":782,"a":31},{"x":975,"y":825,"tx":1001,"ty":782,"a":31},{"x":1050,"y":825,"tx":1076,"ty":782,"a":31},{"x":1125,"y":825,"tx":1151,"ty":782,"a":31},{"x":1200,"y":825,"tx":1226,"ty":782,"a":31},{"x":1275,"y":825,"tx":1301,"ty":782,"a":31},{"x":1350,"y":825,"tx":1376,"ty":782,"a":31},{"x":1425,"y":825,"tx":1451,"ty":782,"a":31},{"x":1500,"y":825,"tx":1526,"ty":782,"a":31},{"x":1575,"y":825,"tx":1601,"ty":782,"a":31},{"x":1650,"y":825,"tx":1676,"ty":782,"a":31},{"x":1725,"y":825,"tx":1751,"ty":782,"a":31},{"x":1800,"y":825,"tx":1826,"ty":782,"a":31},{"x":1875,"y":825,"tx":1901,"ty":782,"a":31},{"x":1950,"y":825,"tx":1976,"ty":782,"a":31}
],
"cbar":[{"lo":0,"hi":0.03,"v":0.012},{"lo":0.024,"hi":0.054,"v":0.036},{"lo":0.048,"hi":0.078,"v":0.06},{"lo":0.072,"hi":0.102,"v":0.084},{"lo":0.096,"hi":0.126,"v":0.108},{"lo":0.12,"hi":0.15,"v":0.132},{"lo":0.144,"hi":0.174,"v":0.156},{"lo":0.168,"hi":0.198,"v":0.18},{"lo":0.192,"hi":0.222,"v":0.204},{"lo":0.216,"hi":0.246,"v":0.228},{"lo":0.24,"hi":0.27,"v":0.252},{"lo":0.264,"hi":0.294,"v":0.276},{"lo":0.288,"hi":0.318,"v":0.3},{"lo":0.312,"hi":0.342,"v":0.324},{"lo":0.336,"hi":0.366,"v":0.348},{"lo":0.36,"hi":0.39,"v":0.372},{"lo":0.384,"hi":0.414,"v":0.396},{"lo":0.408,"hi":0.438,"v":0.42},{"lo":0.432,"hi":0.462,"v":0.444},{"lo":0.456,"hi":0.486,"v":0.468},{"lo":0.48,"hi":0.51,"v":0.492},{"lo":0.504,"hi":0.534,"v":0.516},{"lo":0.528,"hi":0.558,"v":0.54},{"lo":0.552,"hi":0.582,"v":0.564},{"lo":0.576,"hi":0.606,"v":0.588},{"lo":0.6,"hi":0.63,"v":0.612},{"lo":0.624,"hi":0.654,"v":0.636},{"lo":0.648,"hi":0.678,"v":0.66},{"lo":0.672,"hi":0.702,"v":0.684},{"lo":0.696,"hi":0.726,"v":0.708},{"lo":0.72,"hi":0.75,"v":0.732},{"lo":0.744,"hi":0.774,"v":0.756},{"lo":0.768,"hi":0.798,"v":0.78},{"lo":0.792,"hi":0.822,"v":0.804},{"lo":0.816,"hi":0.846,"v":0.828},{"lo":0.84,"hi":0.87,"v":0.852},{"lo":0.864,"hi":0.894,"v":0.876},{"lo":0.888,"hi":0.918,"v":0.9},{"lo":0.912,"hi":0.942,"v":0.924},{"lo":0.936,"hi":0.966,"v":0.948},{"lo":0.96,"hi":0.99,"v":0.972},{"lo":0.984,"hi":1.014,"v":0.996},{"lo":1.008,"hi":1.038,"v":1.02},{"lo":1.032,"hi":1.062,"v":1.044},{"lo":1.056,"hi":1.086,"v":1.068},{"lo":1.08,"hi":1.11,"v":1.092},{"lo":1.104,"hi":1.134,"v":1.116},{"lo":1.128,"hi":1.158,"v":1.14},{"lo":1.152,"hi":1.182,"v":1.164},{"lo":1.176,"hi":1.206,"v":1.188},{"lo":1.2,"hi":1.23,"v":1.212},{"lo":1.224,"hi":1.254,"v":1.236},{"lo":1.248,"hi":1.278,"v":1.26},{"lo":1.272,"hi":1.302,"v":1.284},{"lo":1.296,"hi":1.326,"v":1.308},{"lo":1.32,"hi":1.35,"v":1.332},{"lo":1.344,"hi":1.374,"v":1.356},{"lo":1.368,"hi":1.398,"v":1.38},{"lo":1.392,"hi":1.422,"v":1.404},{"lo":1.416,"hi":1.446,"v":1.428},{"lo":1.44,"hi":1.47,"v":1.452},{"lo":1.464,"hi":1.494,"v":1.476},{"lo":1.488,"hi":1.518,"v":1.5},{"lo":1.512,"hi":1.536,"v":1.524}]
},
"hconcat":[
{"width":840,"height":357,"layer":[
{"data":{"name":"bg"},"transform":[{"calculate":"0","as":"xa"},{"calculate":"2000","as":"xb"}],"mark":{"type":"rect","clip":true},"encoding":{"x":{"field":"xa","type":"quantitative","scale":{"domain":[0,2000],"nice":false,"zero":false},"axis":{"values":[0,200,400,600,800,1000,1200,1400,1600,1800],"title":"alongshore distance (m)","ticks":false,"domain":true,"domainColor":"#000","labelPadding":7,"titlePadding":6,"format":"d","labelFlush":false}},"x2":{"field":"xb"},"y":{"field":"y0","type":"quantitative","scale":{"domain":[0,850],"nice":false,"zero":false,"reverse":true},"axis":{"values":[0,100,200,300,400,500,600,700,800],"title":"cross-shore distance (m)","ticks":false,"domain":false,"labelPadding":6,"titlePadding":3,"format":"d"}},"y2":{"field":"y1"},"color":{"field":"v","type":"quantitative","legend":null,"scale":{"interpolate":"rgb","domain":[0,0.192,0.576,0.96,1.344,1.536],"range":["#00007f","#0000ff","#00ffff","#ffff00","#ff0000","#7f0000"]}}}},
{"data":{"name":"bands"},"mark":{"type":"area","orient":"horizontal","interpolate":"monotone","clip":true},"encoding":{"y":{"field":"y","type":"quantitative"},"x":{"field":"x0","type":"quantitative"},"x2":{"field":"x1"},"detail":{"field":"id"},"color":{"field":"v","type":"quantitative","legend":null}}},
{"data":{"name":"arrows"},"mark":{"type":"rule","color":"#000","strokeWidth":1,"clip":true},"encoding":{"x":{"field":"x","type":"quantitative"},"x2":{"field":"tx"},"y":{"field":"y","type":"quantitative"},"y2":{"field":"ty"}}},
{"data":{"name":"arrows"},"mark":{"type":"point","shape":"M-0.3,1L0,0L0.3,1","filled":false,"stroke":"#000","strokeWidth":1,"opacity":1,"size":196,"clip":true},"encoding":{"x":{"field":"tx","type":"quantitative"},"y":{"field":"ty","type":"quantitative"},"angle":{"field":"a","type":"quantitative","scale":null}}},
{"data":{"values":[{"xa":893,"xb":1112,"ya":393,"yb":614}]},"mark":{"type":"rect","fill":"transparent","stroke":"#333","strokeWidth":1.5},"encoding":{"x":{"field":"xa","type":"quantitative"},"x2":{"field":"xb"},"y":{"field":"ya","type":"quantitative"},"y2":{"field":"yb"}}},
{"data":{"values":[{"xa":1281,"ya":752,"xb":1135,"yb":629}]},"mark":{"type":"rule","color":"#111","strokeWidth":1},"encoding":{"x":{"field":"xa","type":"quantitative"},"x2":{"field":"xb"},"y":{"field":"ya","type":"quantitative"},"y2":{"field":"yb"}}},
{"data":{"values":[{"x":1121,"y":617,"a":310}]},"mark":{"type":"point","shape":"M0,0L-0.36,1L0.36,1Z","filled":true,"color":"#000","opacity":1,"size":900},"encoding":{"x":{"field":"x","type":"quantitative"},"y":{"field":"y","type":"quantitative"},"angle":{"field":"a","type":"quantitative","scale":null}}},
{"data":{"values":[{"x":1281,"y":765,"t":"borrow site limits"}]},"mark":{"type":"text","align":"left","baseline":"middle","fontSize":19.5,"color":"#000"},"encoding":{"x":{"field":"x","type":"quantitative"},"y":{"field":"y","type":"quantitative"},"text":{"field":"t"}}},
{"data":{"values":[{"xa":0,"xb":2000,"ya":0,"yb":850}]},"mark":{"type":"rect","fill":"transparent","stroke":"#555","strokeWidth":1},"encoding":{"x":{"field":"xa","type":"quantitative"},"x2":{"field":"xb"},"y":{"field":"ya","type":"quantitative"},"y2":{"field":"yb"}}}
]},
{"width":27,"height":151,"layer":[
{"data":{"name":"cbar"},"mark":{"type":"rect"},"encoding":{"y":{"field":"lo","type":"quantitative","scale":{"domain":[0,1.557],"nice":false,"zero":false},"axis":{"orient":"right","values":[0,0.5,1,1.5],"format":"~g","title":"Hₘₒ wave height (m)","domain":false,"tickSize":-4,"tickColor":"#333","labelPadding":6,"titlePadding":12}},"y2":{"field":"hi"},"color":{"field":"v","type":"quantitative","legend":null,"scale":{"interpolate":"rgb","domain":[0,0.192,0.576,0.96,1.344,1.536],"range":["#00007f","#0000ff","#00ffff","#ffff00","#ff0000","#7f0000"]}}}},
{"data":{"values":[{"lo":0,"hi":1.536}]},"mark":{"type":"rect","fill":"transparent","stroke":"#555","strokeWidth":1},"encoding":{"y":{"field":"lo","type":"quantitative"},"y2":{"field":"hi"}}}
]}
]}
